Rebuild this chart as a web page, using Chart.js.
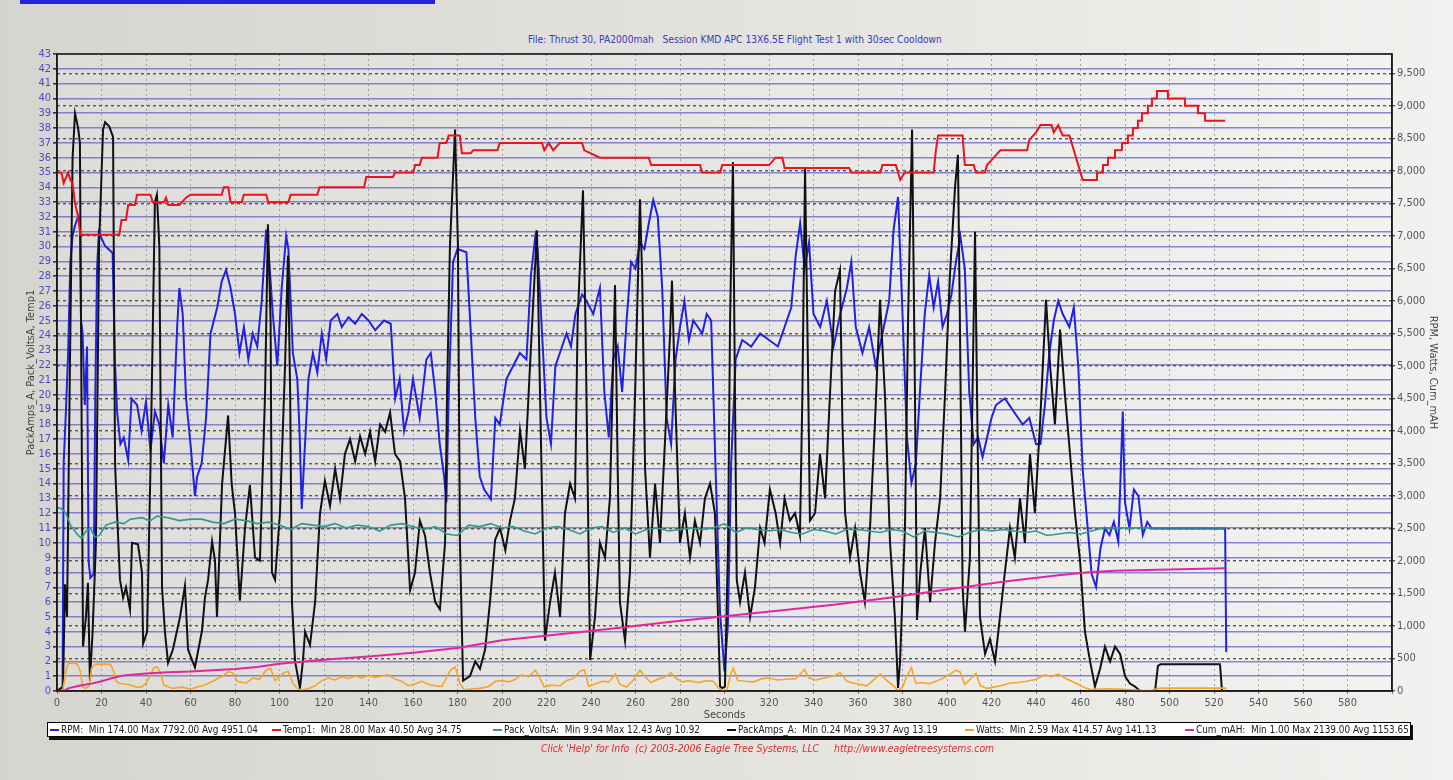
<!DOCTYPE html>
<html>
<head>
<meta charset="utf-8">
<script src="https://cdn.jsdelivr.net/npm/chart.js@4.4.1/dist/chart.umd.min.js"></script>
<style>
  html, body { margin: 0; padding: 0; }
  body {
    width: 1453px; height: 780px; overflow: hidden; position: relative;
    background: linear-gradient(to right, #d6d4cf 0%, #e3e2de 50%, #f1f1ef 100%);
    font-family: "Liberation Sans Narrow", "DejaVu Sans Condensed", sans-serif;
  }
  #topbar { position: absolute; left: 20px; top: 0; width: 415px; height: 4px; background: #2424d8; }
  #wrap { position: absolute; left: 0; top: 0; width: 1453px; height: 780px; }
  #title {
    position: absolute; left: 528px; top: 34px; font-size: 10.2px; color: #3a3ab8; white-space: pre;
  }
  #legend {
    position: absolute; left: 47px; top: 722px; width: 1362px; height: 13px;
    background: #fff; border: 1px solid #000; box-shadow: 2px 3px 0 #111;
    font-size: 9.9px; color: #222;
  }
  .item { position: absolute; top: 0; line-height: 13px; white-space: pre; }
  .item i { display: inline-block; width: 9px; height: 2px; margin-right: 2px; vertical-align: middle; }
  #foot {
    position: absolute; left: 541px; top: 742px; font-size: 10.4px; font-style: italic;
    color: #e02a2a; white-space: pre;
  }
</style>
</head>
<body>
<div id="topbar"></div>
<div id="title">File: Thrust 30, PA2000mah   Session KMD APC 13X6.5E Flight Test 1 with 30sec Cooldown</div>
<div id="wrap"><canvas id="chart" width="1453" height="780"></canvas></div>
<div id="legend"></div>
<div id="foot">Click 'Help' for Info  (c) 2003-2006 Eagle Tree Systems, LLC     http://www.eagletreesystems.com</div>
<script>
// [seconds, value]
const rpmPoints = [[0,0],[2.5,0],[3,3500],[4,4300],[5,5200],[6,6600],[7,7000],[8,7150],[9.5,7300],[10.3,7200],[10.8,5700],[11.5,5500],[12.5,4400],[13.5,5300],[14.2,2000],[15,1740],[16.5,1800],[17.2,4500],[18,6500],[18.8,7060],[21.5,6850],[25,6740],[26,5100],[27,4300],[28.5,3800],[30,3900],[32,3550],[33.5,4500],[36,4400],[38,4000],[40,4450],[42,3700],[44,4300],[46,4100],[48,3500],[50,4400],[52,3900],[54,5600],[55,6200],[56.5,5800],[58,4500],[60,3800],[62,3000],[63,3300],[65,3500],[67,4200],[69,5500],[72,5900],[74,6300],[76,6480],[78,6200],[80,5800],[82,5200],[84,5600],[86,5100],[88,5500],[90,5300],[92,6000],[94,7100],[95,6800],[97,5800],[99,5000],[101,6200],[103,7000],[104,6800],[106,5200],[108,4800],[109,4000],[110,2800],[111,3500],[113,4800],[115,5200],[117,4900],[119,5500],[121,5100],[123,5700],[126,5800],[128,5600],[131,5750],[134,5650],[137,5800],[140,5700],[143,5550],[147,5700],[150,5650],[152,4500],[154,4800],[156,4000],[158,4300],[160,4800],[163,4200],[166,5100],[168,5200],[170,4600],[172,3800],[174,3300],[175,2900],[176,4500],[178,6600],[180,6800],[184,6750],[186,5500],[188,4200],[190,3300],[192,3100],[195,2950],[197,4200],[199,4100],[202,4800],[205,5000],[208,5200],[211,5100],[213,6400],[215,7000],[216,6800],[218,5500],[220,4200],[222,3800],[224,5000],[226,5200],[229,5500],[231,5300],[233,5800],[236,6100],[238,6000],[241,5800],[244,6200],[246,4600],[248,3900],[250,5100],[252,5300],[254,4600],[256,5700],[258,6600],[260,6500],[262,6900],[264,6800],[266,7200],[268,7550],[270,7300],[272,6200],[274,4200],[276,3800],[278,5100],[280,5600],[282,6000],[284,5400],[286,5700],[288,5600],[290,5500],[292,5800],[294,5700],[296,3400],[298,1200],[300,300],[301.5,1000],[303,3500],[305,5100],[308,5400],[312,5300],[316,5500],[320,5400],[324,5300],[327,5600],[330,5900],[332,6700],[334,7200],[336,6500],[338,6900],[340,5800],[343,5600],[346,6000],[349,5300],[352,5800],[355,6200],[357,6600],[359,5600],[362,5200],[365,5600],[368,5000],[371,5500],[374,6000],[376,7100],[378,7600],[380,5800],[382,3900],[384,3200],[386,3500],[388,4700],[390,5800],[392,6400],[394,5900],[396,6300],[398,5600],[400,5800],[402,6100],[404,6600],[406,7000],[408,6500],[410,4600],[412,3800],[414,3900],[416,3600],[418,3900],[420,4200],[422,4400],[426,4500],[430,4300],[434,4100],[437,4200],[440,3800],[442,3800],[444,4400],[446,5200],[448,5700],[450,6000],[452,5800],[455,5600],[457,5900],[459,5000],[461,3400],[463,2600],[465,1800],[467,1600],[469,2200],[471,2500],[473,2400],[475,2600],[477,2300],[479,4300],[480,2900],[482,2500],[484,3100],[486,3000],[488,2400],[490,2600],[492,2500],[525,2500],[525.5,600]];

const tempPoints = [[0,35],[2,35],[3,34.3],[5,35],[6,34.5],[7,34.3],[8,33],[9.5,32],[10.5,30.8],[28,30.8],[29,31.8],[31,31.8],[32,32.8],[35,32.8],[36,33.5],[42,33.5],[43,33],[48,33],[49,33.3],[50,32.8],[55,32.8],[58,33.3],[60,33.5],[74,33.5],[75,34],[77,34],[78,33],[83,33],[84,33.5],[94,33.5],[95,33],[104,33],[105,33.5],[117,33.5],[118,34],[138,34],[139,34.7],[151,34.7],[152,35],[160,35],[161,35.5],[163,35.5],[164,36],[171,36],[172,37],[175,37],[176,37.5],[181,37.5],[182,36.3],[186,36.3],[187,36.5],[198,36.5],[199,37],[218,37],[219,36.5],[221,37],[223,36.5],[226,37],[236,37],[237,36.5],[244,36],[266,36],[267,35.5],[289,35.5],[290,35],[298,35],[299,35.5],[320,35.5],[323,36],[326,36],[327,35.3],[356,35.3],[357,35],[370,35],[371,35.5],[377,35.5],[379,34.5],[381,35],[394,35],[395,36.5],[396,37.5],[407,37.5],[408,35.5],[412,35.5],[413,35],[417,35],[418,35.5],[421,36],[424,36.5],[436,36.5],[437,37.2],[440,37.7],[442,38.2],[447,38.2],[448,37.7],[450,38.2],[452,37.5],[455,37.5],[457,36.5],[459,35.5],[461,34.5],[467,34.5],[467.4,35],[470,35],[470.1,35.5],[472.3,35.5],[472.4,36],[475.4,36],[475.5,36.5],[478.6,36.5],[478.7,37],[481.2,37],[481.3,37.5],[483.5,37.5],[483.6,38],[485.7,38],[485.8,38.5],[487.5,38.5],[487.6,39],[490.2,39],[490.3,39.5],[492,39.5],[492.1,40],[494.3,40],[494.4,40.5],[499.2,40.5],[499.3,40],[506.9,40],[507,39.5],[512.7,39.5],[512.8,39],[515.9,39],[516,38.5],[525,38.5]];

const voltsPoints = [[0,12.4],[2,12.3],[4,12.0],[6,11.2],[9,10.6],[11,10.3],[13,10.8],[15,11.0],[17,10.4],[19,10.5],[22,11.2],[26,11.4],[30,11.3],[33,11.6],[38,11.7],[42,11.5],[45,11.8],[50,11.7],[55,11.5],[60,11.6],[65,11.6],[70,11.4],[75,11.3],[80,11.6],[85,11.5],[90,11.3],[95,11.4],[100,11.2],[105,10.9],[110,11.3],[115,11.2],[120,11.1],[125,11.3],[130,11.0],[135,11.2],[140,11.1],[145,10.8],[150,11.2],[155,11.3],[160,11.1],[165,10.9],[170,11.1],[175,10.6],[180,10.5],[185,11.2],[190,11.1],[195,11.3],[200,11.0],[205,11.1],[210,10.8],[215,10.6],[220,11.0],[225,11.1],[230,10.9],[235,10.6],[240,11.0],[245,11.1],[250,10.7],[255,11.0],[260,10.6],[265,10.9],[270,11.0],[275,10.8],[280,10.9],[285,11.0],[290,10.9],[295,11.0],[300,11.3],[305,10.7],[310,11.0],[315,10.9],[320,10.8],[325,10.9],[330,10.7],[335,10.6],[340,10.9],[345,10.8],[350,10.6],[355,10.9],[360,10.9],[365,10.8],[370,10.7],[375,10.9],[380,10.8],[385,10.4],[390,10.8],[395,10.7],[400,10.6],[405,10.4],[410,10.7],[415,10.9],[420,10.8],[425,10.9],[430,10.8],[435,10.7],[440,10.8],[445,10.5],[450,10.6],[455,10.7],[460,10.6],[465,10.8],[470,11.0],[525,11.0]];

const ampsPoints = [[0,0],[2.7,0.3],[3.6,7.2],[4.5,5],[5.8,22],[7,36],[8.1,39],[9.5,38],[10.3,37],[11.2,15],[11.7,3],[13,5],[13.9,7.3],[14.8,0.7],[16,4],[17.5,10],[18.9,30],[20.7,37.9],[21.6,38.4],[23.5,38.1],[25.2,37.4],[26.1,15.3],[27,12],[28.3,7.5],[29.7,6.3],[31,7],[32.8,5.5],[33.7,10],[36.4,9.9],[38.2,8],[38.7,3.2],[40.5,4],[42,15],[44,33],[44.9,33.5],[46,30],[47.2,7],[48.5,4],[49.9,1.9],[52.1,2.8],[55.3,5],[57.5,7.1],[58.9,2.8],[62,1.6],[65.2,4.1],[66.5,6.3],[67.9,7.5],[69.7,10.1],[71,8.8],[71.9,5],[74.2,14],[76.9,18.6],[78.5,14],[80,12],[82.2,6.1],[84.5,11],[86.7,13.9],[89,9],[91.2,8.8],[93.5,20],[94.8,31.5],[96,25],[96.6,8],[98,7.5],[100.2,12],[102.5,22],[103.8,29.4],[104.8,20],[105.6,6],[107,2],[109.2,0.2],[110.5,2],[111.5,4],[113.7,3.1],[116,6],[118.2,12],[120.4,14.2],[122.7,12.5],[125,15],[127.2,13],[129.4,16],[131.7,17],[134,15.5],[136.2,17.2],[138.5,16],[140.7,17.5],[143,15.5],[145.2,18],[147.5,17.5],[149.7,18.8],[151.9,16],[154.2,15.5],[156.4,13],[158.7,6.8],[160.9,8],[163.1,11.5],[165.4,10.5],[167.6,8],[170,6],[172.1,5.5],[174.4,10],[175.3,20],[176.6,30],[178.9,37.9],[180.2,30],[181.1,10],[182.5,0.7],[185.6,1],[188,2],[190.1,1.5],[192.4,2.8],[194.6,6],[196.9,10.2],[199.1,11],[201.5,9.5],[203.6,11.5],[205.8,13],[208.1,17.6],[210.3,15],[212.6,22],[215.7,31.1],[217.1,20],[219.3,3.4],[221.6,6],[223.8,8],[226.1,5],[228.3,12],[230.6,14],[232.8,13],[234,25],[236.4,33.8],[237.5,25],[239.6,2.1],[241.8,5],[244,10],[246.3,9],[248.5,13],[250.8,27.4],[252,15],[253,6],[255.3,3.4],[257.5,8],[259.8,20],[262,33.2],[263,28],[264.3,15],[266.5,9],[268.8,14],[271,10],[273.3,17],[275.5,24],[276.4,27.7],[277.8,20],[280,10],[282.2,12],[284.5,9],[286.7,11.5],[289,10],[291.2,13],[293.5,14],[295.7,12],[297.1,5],[298,0.3],[299,0.2],[300.2,0.3],[301.6,10],[302.5,25],[303.8,35.7],[304.7,20],[305.5,7.5],[307,6],[309.2,8],[311.5,5],[313.7,7],[316,11],[318,10],[320.4,13.6],[323,12],[325,10],[327,13],[329.4,11.5],[331.7,12],[333.9,10.5],[335,20],[336.2,35.3],[337.5,22],[338.4,11.5],[340.7,12],[342.9,16],[345.2,13],[347.4,20],[349.7,27],[351.9,28.4],[353,18],[354.2,12],[356.4,9],[358.7,11],[360.9,8],[363.1,6],[365.4,11],[367.6,18],[369.9,26.4],[372.1,20],[374.4,10],[376.6,5],[378,0.2],[378.9,2],[381.1,11],[382.5,25],[384.3,37.9],[385.6,20],[386.5,4.8],[388,8],[390.1,11],[392.4,6],[394.6,10],[396.9,13],[399.1,20],[401.3,28],[403.6,34],[404.9,36.2],[405.8,25],[407,7],[408.1,4],[410.3,9],[412.6,31],[413.5,20],[414.8,5],[417.1,2.5],[419.3,3.5],[421.6,2],[423.8,5],[426,8],[428.3,11],[430.5,9],[432.8,13],[435,10],[437.3,16],[439.5,12],[441.8,18],[444.5,26.4],[446.3,22],[448.5,18],[450.8,24.4],[453,20],[455.3,16],[457.5,12],[459.8,8.8],[462,4],[464.3,2],[466.5,0.3],[468.8,1.5],[471,3],[473.3,2],[475.5,3],[477.8,2.5],[480,1],[482.2,0.5],[484.5,0.3],[486.7,0],[493.5,0],[494.8,1.7],[496,1.8],[522.7,1.8],[523.6,0],[525,0]];

const wattsPoints = [[0,0],[2.5,0],[4,300],[5,420],[6,430],[9,420],[10.5,300],[11.5,60],[13,40],[14.5,80],[15.5,350],[17,410],[21,415],[24,410],[25.5,300],[26.5,150],[28,120],[32,100],[36,60],[38,60],[40,120],[42,240],[43.5,360],[45,370],[46.5,280],[48,90],[52,40],[56,60],[60,30],[64,70],[67,100],[70,150],[75,240],[77,300],[79,280],[81,150],[85,120],[88,200],[91,180],[94,320],[96,350],[98,160],[100,220],[102,280],[104,300],[106,120],[108,40],[110,10],[113,40],[116,80],[119,160],[122,200],[125,170],[128,220],[131,190],[134,230],[137,200],[140,240],[143,210],[146,230],[149,250],[152,180],[155,150],[158,80],[161,110],[164,150],[167,100],[170,80],[173,70],[175,200],[177,330],[179,370],[181,120],[183,20],[186,30],[190,40],[194,70],[197,150],[200,160],[203,140],[206,180],[209,250],[212,220],[215,320],[217,200],[219,60],[222,90],[226,80],[229,160],[232,190],[235,300],[237,330],[239,70],[242,110],[245,150],[248,140],[251,260],[253,100],[256,60],[259,170],[262,320],[264,230],[267,130],[270,180],[273,210],[276,280],[278,200],[281,140],[284,160],[288,130],[292,160],[295,150],[297,60],[299,5],[301,10],[303,280],[304,350],[306,160],[309,150],[313,140],[317,190],[320,200],[324,170],[328,180],[332,190],[336,330],[338,200],[341,170],[345,200],[349,230],[352,280],[355,150],[358,120],[361,100],[364,80],[367,170],[370,260],[373,160],[376,80],[378,5],[380,60],[382,230],[384,360],[386,120],[389,130],[392,110],[395,150],[398,190],[401,250],[404,320],[406,290],[408,100],[411,200],[413,270],[415,80],[418,40],[421,60],[424,80],[428,120],[432,130],[436,150],[440,180],[444,250],[447,220],[450,260],[453,200],[456,150],[459,100],[462,50],[465,20],[468,30],[472,35],[476,30],[480,25],[484,15],[488,8],[492,10],[495,40],[500,45],[525,45],[525.5,5]];

const mahPoints = [[0,0],[3,0],[5,40],[10,80],[15,110],[20,150],[25,200],[30,240],[40,270],[50,290],[60,300],[70,320],[80,340],[90,370],[100,420],[120,480],[140,530],[160,590],[180,660],[200,780],[225,870],[250,960],[275,1060],[300,1150],[325,1240],[350,1330],[375,1440],[400,1560],[425,1680],[450,1780],[465,1830],[475,1850],[500,1870],[525,1890]];

const secTicks = { min: 0, max: 600, step: 20 };
const leftTicks = { min: 0, max: 43, step: 1 };
const rightMax = 9800;
const rightTickValues = [0,500,1000,1500,2000,2500,3000,3500,4000,4500,5000,5500,6000,6500,7000,7500,8000,8500,9000,9500];

const legendItems = [
  ['RPM:  Min 174.00 Max 7792.00 Avg 4951.04', '#2222dd', 50],
  ['Temp1:  Min 28.00 Max 40.50 Avg 34.75', '#e8141e', 272],
  ['Pack_VoltsA:  Min 9.94 Max 12.43 Avg 10.92', '#2e9a8c', 493],
  ['PackAmps_A:  Min 0.24 Max 39.37 Avg 13.19', '#111111', 727],
  ['Watts:  Min 2.59 Max 414.57 Avg 141.13', '#f0a020', 965],
  ['Cum_mAH:  Min 1.00 Max 2139.00 Avg 1153.65', '#e0289c', 1185]
];

const legend = document.getElementById('legend');
legendItems.forEach(([txt, col, x]) => {
  const d = document.createElement('div');
  d.className = 'item';
  d.style.left = (x - 48) + 'px';
  d.innerHTML = '<i style="background:' + col + '"></i>' + txt;
  legend.appendChild(d);
});

const toXY = pts => pts.map(p => ({ x: p[0], y: p[1] }));
const fontName = '"Liberation Sans Narrow", "DejaVu Sans Condensed", sans-serif';

function ds(label, pts, color, axis, width, order) {
  return {
    label: label, data: toXY(pts), yAxisID: axis,
    borderColor: color, borderWidth: width, pointRadius: 0,
    tension: 0, fill: false, order: order
  };
}

const plotFrame = {
  id: 'plotFrame',
  beforeDraw(chart) {
    const a = chart.chartArea, ctx = chart.ctx;
    ctx.save();
    ctx.fillStyle = 'rgba(255,255,255,0.18)';
    ctx.fillRect(a.left, a.top, a.right - a.left, a.bottom - a.top);
    ctx.restore();
  },
  afterDraw(chart) {
    const a = chart.chartArea, ctx = chart.ctx;
    ctx.save();
    ctx.strokeStyle = '#1a1a1a';
    ctx.lineWidth = 1.5;
    ctx.strokeRect(a.left, a.top, a.right - a.left, a.bottom - a.top);
    ctx.restore();
  }
};

new Chart('chart', {
  type: 'line',
  data: {
    datasets: [
      ds('Temp1', tempPoints, '#e8141e', 'y', 2, 1),
      ds('Cum_mAH', mahPoints, '#e0289c', 'y1', 2, 2),
      ds('Watts', wattsPoints, '#f5a623', 'y1', 1.6, 3),
      ds('Pack_VoltsA', voltsPoints, '#2e9a8c', 'y', 1.6, 4),
      ds('PackAmps_A', ampsPoints, '#111111', 'y', 2, 5),
      ds('RPM', rpmPoints, '#2222dd', 'y1', 2, 6)
    ]
  },
  options: {
    responsive: false,
    animation: false,
    layout: { padding: { top: 54 } },
    plugins: {
      legend: { display: false },
      tooltip: { enabled: false },
      title: { display: false }
    },
    scales: {
      x: {
        type: 'linear', min: secTicks.min, max: secTicks.max,
        afterFit(s) { s.height = 89; },
        ticks: {
          stepSize: secTicks.step, color: '#555', padding: 3,
          font: { family: fontName, size: 11 },
          maxRotation: 0, autoSkip: false,
          callback: v => (v < secTicks.max ? v : '')
        },
        grid: { color: '#a0a0a0', lineWidth: 1, tickLength: 3, tickColor: '#777' },
        border: { color: '#1a1a1a', width: 1.5, dash: [2, 3] },
        title: {
          display: true, text: 'Seconds', color: '#444',
          font: { family: fontName, size: 11 }, padding: { top: 0, bottom: 58 }
        }
      },
      y: {
        position: 'left', min: leftTicks.min, max: leftTicks.max,
        afterFit(s) { s.width = 57; },
        ticks: {
          stepSize: leftTicks.step, color: '#4a4ac8', padding: 2,
          font: { family: fontName, size: 11 }, autoSkip: false
        },
        grid: { color: 'rgba(105,105,200,0.8)', lineWidth: 1.6, tickLength: 4, tickColor: '#333' },
        border: { color: '#1a1a1a', width: 1.5 },
        title: {
          display: true, text: 'PackAmps_A, Pack_VoltsA, Temp1', color: '#444',
          font: { family: fontName, size: 11 }, padding: { top: 25, bottom: 0 }
        }
      },
      y1: {
        position: 'right', min: 0, max: rightMax,
        afterFit(s) { s.width = 61; },
        afterBuildTicks(s) { s.ticks = rightTickValues.map(v => ({ value: v })); },
        ticks: {
          color: '#555', padding: 2,
          font: { family: fontName, size: 11 }, autoSkip: false,
          callback: v => v.toLocaleString('en-US')
        },
        grid: { color: '#555', lineWidth: 1.4, tickLength: 3, tickColor: '#555' },
        border: { color: '#1a1a1a', width: 1.5, dash: [3, 3] },
        title: {
          display: true, text: 'RPM, Watts, Cum_mAH', color: '#444',
          font: { family: fontName, size: 11 }, padding: { top: 14, bottom: 0 }
        }
      }
    }
  },
  plugins: [plotFrame]
});
</script>
</body>
</html>
